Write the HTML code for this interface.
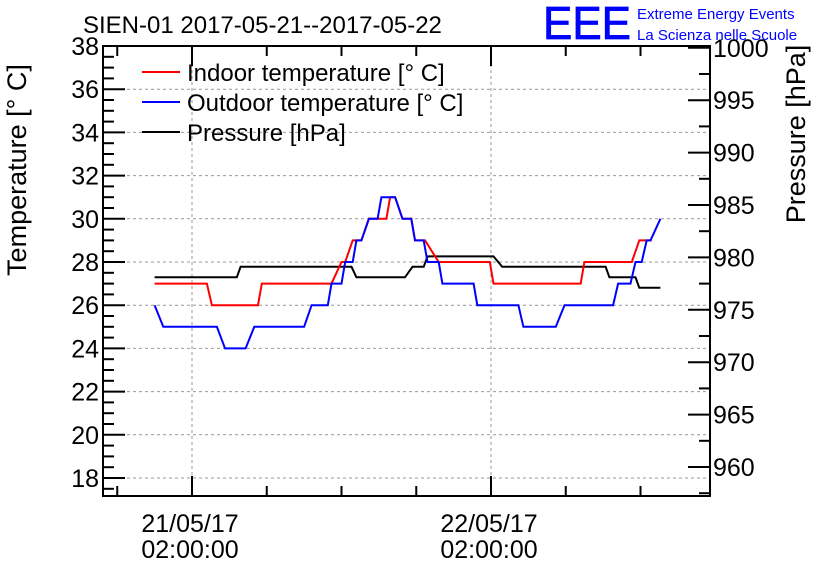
<!DOCTYPE html>
<html><head><meta charset="utf-8"><style>
body{margin:0;background:#fff}
svg{display:block;font-family:"Liberation Sans",sans-serif}
</style></head><body>
<svg id="chart" width="836" height="572" viewBox="0 0 836 572" xmlns="http://www.w3.org/2000/svg">
<rect width="836" height="572" fill="#fff"/>
<text x="83" y="33" font-size="24">SIEN-01 2017-05-21--2017-05-22</text>
<text x="543" y="39" font-size="46" fill="#0000ff" stroke="#0000ff" stroke-width="0.8" textLength="88" lengthAdjust="spacingAndGlyphs">EEE</text>
<text x="637" y="19" font-size="15" fill="#0000ff">Extreme Energy Events</text>
<text x="637" y="40" font-size="15" fill="#0000ff">La Scienza nelle Scuole</text>
<g id="grid"></g>
<g id="axes"></g>
<g id="series"></g>
<rect x="103" y="46" width="607" height="450" fill="none" stroke="#000" stroke-width="2"/>
<g>
<line x1="142" y1="72" x2="180" y2="72" stroke="#f00" stroke-width="2"/>
<text x="187" y="81" font-size="24">Indoor temperature [° C]</text>
<line x1="142" y1="102" x2="180" y2="102" stroke="#00f" stroke-width="2"/>
<text x="187" y="111" font-size="24">Outdoor temperature [° C]</text>
<line x1="142" y1="132" x2="180" y2="132" stroke="#000" stroke-width="2"/>
<text x="187" y="141" font-size="24">Pressure [hPa]</text>
</g>
<text transform="translate(26,170) rotate(-90)" font-size="27" text-anchor="middle">Temperature [° C]</text>
<text transform="translate(805,134) rotate(-90)" font-size="27" text-anchor="middle">Pressure [hPa]</text>
<script>
const indoor = [[-3,27],[1.2,27],[1.6,26],[5.3,26],[5.6,27],[11.2,27],[12,28],[12.3,28],[12.9,29],[13.6,29],[14.2,30],[15.6,30],[15.9,31],[16.3,31],[16.9,30],[17.6,30],[17.9,29],[18.7,29],[19.8,28],[23.9,28],[24.2,27],[31.2,27],[31.5,28],[35.3,28],[35.9,29],[36.9,29]];
const outdoor = [[-3,26],[-2.3,25],[2,25],[2.65,24],[4.3,24],[5,25],[9,25],[9.6,26],[10.9,26],[11.2,27],[12,27],[12.3,28],[12.9,28],[13.2,29],[13.6,29],[14.2,30],[14.9,30],[15.2,31],[16.3,31],[16.9,30],[17.6,30],[17.9,29],[18.6,29],[18.9,28],[19.8,28],[20.1,27],[22.6,27],[22.9,26],[26.2,26],[26.6,25],[29.2,25],[29.9,26],[33.8,26],[34.2,27],[35.2,27],[35.6,28],[36.1,28],[36.5,29],[36.8,29],[37.6,30]];
const pressure = [[-3,978.1],[3.6,978.1],[3.9,979.1],[12.8,979.1],[13.2,978.1],[17.1,978.1],[17.7,979.1],[18.6,979.1],[18.9,980.1],[24.2,980.1],[24.9,979.1],[33.2,979.1],[33.5,978.1],[35.6,978.1],[35.9,977.1],[37.6,977.1]];
const tempTicks = [18,20,22,24,26,28,30,32,34,36,38];
const presTicks = [960,965,970,975,980,985,990,995,1000];
const dateLabels = ["21/05/17","22/05/17"];
const timeLabels = ["02:00:00","02:00:00"];
const NS="http://www.w3.org/2000/svg";
const xH = h => 192 + h*299/24;
const yT = t => 46 + (38-t)*21.6;
const yP = p => 467 - (p-960)*10.48;
function mk(tag, attrs, parent, txt){const e=document.createElementNS(NS,tag);for(const k in attrs)e.setAttribute(k,attrs[k]);if(txt!==undefined)e.textContent=txt;parent.appendChild(e);return e;}
const grid=document.getElementById('grid'), axes=document.getElementById('axes'), ser=document.getElementById('series');
tempTicks.forEach(t=>{
  const y=yT(t);
  const g=mk('line',{x1:103,x2:710,y1:y,y2:y,stroke:'#999','stroke-dasharray':'3,3','stroke-width':1},grid);
  
  
  mk('line',{x1:103,x2:125,y1:y,y2:y,stroke:'#000','stroke-width':2},axes);
  const l=mk('text',{x:99,y:y+9,'font-size':25,'text-anchor':'end'},axes,String(t));
  
  
});
for(let t=17.5;t<=38;t+=0.5){ if(t%2!==0){const y=yT(t); if(y<496) mk('line',{x1:103,x2:114,y1:y,y2:y,stroke:'#000','stroke-width':2},axes);} }
presTicks.forEach(p=>{
  const y=yP(p);
  mk('line',{x1:688,x2:710,y1:y,y2:y,stroke:'#000','stroke-width':2},axes);
  const l=mk('text',{x:713,y:y+9,'font-size':25},axes,String(p));
  
  
});
for(let p=957.5;p<=1000;p+=5){const y=yP(p); if(y>46&&y<496) mk('line',{x1:699,x2:710,y1:y,y2:y,stroke:'#000','stroke-width':2},axes);}
for(let h=-6;h<=42;h+=6){
  const x=xH(h); if(x<103||x>710) continue;
  const major=(h%24===0);
  const len=major?20:10;
  if(major){const g=mk('line',{x1:x,x2:x,y1:46,y2:496,stroke:'#999','stroke-dasharray':'3,3','stroke-width':1},grid);
    
    }
  mk('line',{x1:x,x2:x,y1:496,y2:496-len,stroke:'#000','stroke-width':2},axes);
  mk('line',{x1:x,x2:x,y1:46,y2:46+len,stroke:'#000','stroke-width':2},axes);
}
dateLabels.forEach((d,i)=>{
  const x=xH(i*24)-2;
  const a=mk('text',{x:x,y:532,'font-size':25,'text-anchor':'middle'},axes,d);
  
  
  const b=mk('text',{x:x,y:558,'font-size':25,'text-anchor':'middle'},axes,timeLabels[i]);
  
  
});
function draw(data, yf, color, name){
  const pts=data.map(d=>xH(d[0]).toFixed(1)+','+yf(d[1]).toFixed(1)).join(' ');
  const pl=mk('polyline',{points:pts,fill:'none',stroke:color,'stroke-width':2},ser);
  
  
}
draw(pressure,yP,'#000','pressure-line');
draw(indoor,yT,'#f00','indoor-temperature-line');
draw(outdoor,yT,'#00f','outdoor-temperature-line');
</script>
</svg>
</body></html>
